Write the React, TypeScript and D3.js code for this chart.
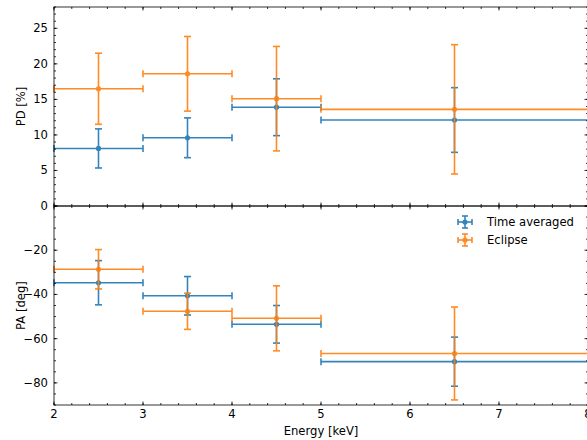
import React from 'react';
import { scaleLinear, range } from 'd3';

// energy bins (keV)
const binLo = [2, 3, 4, 5];
const binHi = [3, 4, 5, 8];
const binMid = [2.5, 3.5, 4.5, 6.5];

// polarization degree [%]
const pdAvg = [8.1, 9.6, 13.9, 12.1];
const pdAvgErr = [2.75, 2.8, 4.0, 4.55];
const pdEcl = [16.5, 18.6, 15.1, 13.6];
const pdEclErr = [5.0, 5.25, 7.35, 9.1];

// polarization angle [deg]
const paAvg = [-34.7, -40.6, -53.5, -70.4];
const paAvgErr = [10.0, 8.7, 8.5, 11.1];
const paEcl = [-28.6, -47.6, -50.8, -66.7];
const paEclErr = [8.9, 8.2, 14.7, 21.0];

const xTicks = [2, 3, 4, 5, 6, 7, 8];
const pdTicks = [0, 5, 10, 15, 20, 25];
const paTicks = [-20, -40, -60, -80];
const seriesNames = ['Time averaged', 'Eclipse'];

const BLUE = '#1f77b4';
const ORANGE = '#ff7f0e';
const FONT = 'DejaVu Sans, sans-serif';

const W = 587;
const H = 440;
const left = 54;
const right = 588;
const top1 = 7;
const mid = 206;
const bottom2 = 405;

const x = scaleLinear().domain([2, 8]).range([left, right]);
const yPD = scaleLinear().domain([0, 28]).range([mid, top1]);
const yPA = scaleLinear().domain([-90, 0]).range([bottom2, mid]);

const fmt = (v: number) => (v < 0 ? '\u2212' + Math.abs(v) : String(v));

function ErrBars({ vals, errs, y, color }: any) {
  return (
    <g stroke={color} strokeWidth={1.6} opacity={0.9}>
      {vals.map((v: number, i: number) => {
        const cx = x(binMid[i]);
        const cy = y(v);
        const y0 = y(v - errs[i]);
        const y1 = y(v + errs[i]);
        const xa = x(binLo[i]);
        const xb = x(binHi[i]);
        return (
          <g key={i}>
            <line x1={xa} x2={xb} y1={cy} y2={cy} />
            <line x1={cx} x2={cx} y1={y0} y2={y1} />
            <line x1={cx - 3.5} x2={cx + 3.5} y1={y0} y2={y0} />
            <line x1={cx - 3.5} x2={cx + 3.5} y1={y1} y2={y1} />
            <line x1={xa} x2={xa} y1={cy - 3.5} y2={cy + 3.5} />
            <line x1={xb} x2={xb} y1={cy - 3.5} y2={cy + 3.5} />
            <circle cx={cx} cy={cy} r={2.6} fill={color} stroke="none" />
          </g>
        );
      })}
    </g>
  );
}

function Frame({ y, y0, y1, major, minorStep }: any) {
  const [d0, d1] = y.domain();
  const minors = range(Math.ceil(d0 / minorStep) * minorStep, d1 + 1e-9, minorStep);
  const xMinor = range(2, 8.0001, 0.2);
  return (
    <g stroke="#000" strokeWidth={0.8}>
      {xMinor.map((v: number, i: number) => (
        <g key={'xm' + i}>
          <line x1={x(v)} x2={x(v)} y1={y0} y2={y0 - 2} />
          <line x1={x(v)} x2={x(v)} y1={y1} y2={y1 + 2} />
        </g>
      ))}
      {xTicks.map((v) => (
        <g key={'xM' + v}>
          <line x1={x(v)} x2={x(v)} y1={y0} y2={y0 - 3.5} />
          <line x1={x(v)} x2={x(v)} y1={y1} y2={y1 + 3.5} />
        </g>
      ))}
      {minors.map((v: number, i: number) => (
        <g key={'ym' + i}>
          <line x1={left} x2={left + 2} y1={y(v)} y2={y(v)} />
          <line x1={right} x2={right - 2} y1={y(v)} y2={y(v)} />
        </g>
      ))}
      {major.map((v: number) => (
        <g key={'yM' + v}>
          <line x1={left} x2={left + 3.5} y1={y(v)} y2={y(v)} />
          <line x1={right} x2={right - 3.5} y1={y(v)} y2={y(v)} />
        </g>
      ))}
      <rect x={left} y={y1} width={right - left} height={y0 - y1} fill="none" />
    </g>
  );
}

function LegendIcon({ cx, cy, color }: any) {
  return (
    <g stroke={color} strokeWidth={1.6} opacity={0.9}>
      <line x1={cx - 7} x2={cx + 7} y1={cy} y2={cy} />
      <line x1={cx} x2={cx} y1={cy - 6} y2={cy + 6} />
      <line x1={cx - 3} x2={cx + 3} y1={cy - 6} y2={cy - 6} />
      <line x1={cx - 3} x2={cx + 3} y1={cy + 6} y2={cy + 6} />
      <line x1={cx - 7} x2={cx - 7} y1={cy - 3} y2={cy + 3} />
      <line x1={cx + 7} x2={cx + 7} y1={cy - 3} y2={cy + 3} />
      <circle cx={cx} cy={cy} r={2.6} fill={color} stroke="none" />
    </g>
  );
}

export default function App() {
  return (
    <svg
      width={W}
      height={H}
      style={{ position: 'absolute', left: 0, top: 0, background: '#fff' }}
      fontFamily={FONT}
      fontSize={11.6}
    >
      <rect width={W} height={H} fill="#fff" />
      <ErrBars vals={pdAvg} errs={pdAvgErr} y={yPD} color={BLUE} />
      <ErrBars vals={pdEcl} errs={pdEclErr} y={yPD} color={ORANGE} />
      <ErrBars vals={paAvg} errs={paAvgErr} y={yPA} color={BLUE} />
      <ErrBars vals={paEcl} errs={paEclErr} y={yPA} color={ORANGE} />

      <Frame y={yPD} y0={mid} y1={top1} major={pdTicks} minorStep={1} />
      <Frame y={yPA} y0={bottom2} y1={mid} major={[0, ...paTicks]} minorStep={5} />

      {pdTicks.map((v) => (
        <text key={'pd' + v} x={left - 6} y={yPD(v)} textAnchor="end" dominantBaseline="central">
          {fmt(v)}
        </text>
      ))}
      {paTicks.map((v) => (
        <text key={'pa' + v} x={left - 6} y={yPA(v)} textAnchor="end" dominantBaseline="central">
          {fmt(v)}
        </text>
      ))}
      {xTicks.map((v) => (
        <text key={'x' + v} x={x(v)} y={bottom2 + 13} textAnchor="middle">
          {v}
        </text>
      ))}
      <text x={(left + right) / 2} y={435} textAnchor="middle">Energy [keV]</text>
      <text transform={`translate(25,${(top1 + mid) / 2}) rotate(-90)`} textAnchor="middle">PD [%]</text>
      <text transform={`translate(25,${(mid + bottom2) / 2}) rotate(-90)`} textAnchor="middle">PA [deg]</text>

      <LegendIcon cx={465} cy={222} color={BLUE} />
      <LegendIcon cx={465} cy={240} color={ORANGE} />
      <text x={487} y={222} dominantBaseline="central">{seriesNames[0]}</text>
      <text x={487} y={240} dominantBaseline="central">{seriesNames[1]}</text>
    </svg>
  );
}
